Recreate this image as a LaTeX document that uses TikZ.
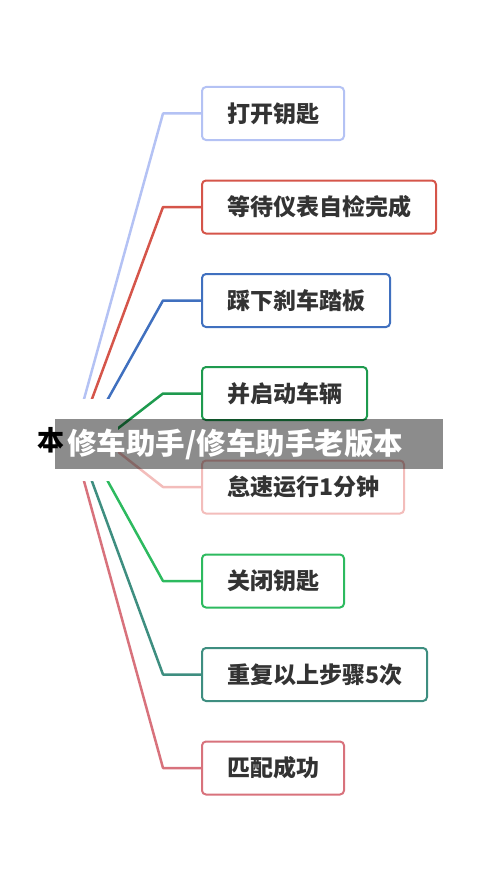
\documentclass[tikz,border=0pt]{standalone}
\usepackage{fontspec}
\newfontfamily\cjk{Noto Sans CJK SC}
\definecolor{txt}{HTML}{333333}
\definecolor{c1}{HTML}{B4C2F4}
\definecolor{c2}{HTML}{D5554A}
\definecolor{c3}{HTML}{4070BF}
\definecolor{c4}{HTML}{1E9A4E}
\definecolor{c5}{HTML}{F3BDBB}
\definecolor{c6}{HTML}{2DBA5F}
\definecolor{c7}{HTML}{3E8E80}
\definecolor{c8}{HTML}{D8727C}
\begin{document}
\begin{tikzpicture}[x=1pt,y=-1pt,
  stepbox/.style={draw=#1, rounded corners=4pt, line width=2pt, fill=white,
    minimum height=53pt, inner xsep=25pt, inner ysep=0pt, anchor=west,
    font=\cjk\bfseries\fontsize{23}{23}\selectfont, text=txt},
  link/.style={draw=#1, line width=2.5pt, line join=round}]
\useasboundingbox (0,0) rectangle (500,888);
% branch start points (hidden below the root)
\coordinate (s1) at (72.7,440);
\coordinate (s2) at (76.8,440);
\coordinate (s3) at (85,440);
\coordinate (s4) at (103,440);
\coordinate (s5) at (103,440);
\coordinate (s6) at (85,440);
\coordinate (s7) at (76.8,440);
\coordinate (s8) at (72.7,440);
% boxes
\node[stepbox=c1] (b1) at (201,113.5) {打开钥匙};
\node[stepbox=c2] (b2) at (201,207) {等待仪表自检完成};
\node[stepbox=c3] (b3) at (201,300.5) {踩下刹车踏板};
\node[stepbox=c4] (b4) at (201,393.5) {并启动车辆};
\node[stepbox=c5] (b5) at (201,487) {怠速运行1分钟};
\node[stepbox=c6] (b6) at (201,581) {关闭钥匙};
\node[stepbox=c7] (b7) at (201,674.5) {重复以上步骤5次};
\node[stepbox=c8] (b8) at (201,768) {匹配成功};
% connectors
\draw[link=c1] (s1) -- ([xshift=-38pt]b1.west) -- (b1.west);
\draw[link=c2] (s2) -- ([xshift=-38pt]b2.west) -- (b2.west);
\draw[link=c3] (s3) -- ([xshift=-38pt]b3.west) -- (b3.west);
\draw[link=c4] (s4) -- ([xshift=-38pt]b4.west) -- (b4.west);
\draw[link=c5] (s5) -- ([xshift=-38pt]b5.west) -- (b5.west);
\draw[link=c6] (s6) -- ([xshift=-38pt]b6.west) -- (b6.west);
\draw[link=c7] (s7) -- ([xshift=-38pt]b7.west) -- (b7.west);
\draw[link=c8] (s8) -- ([xshift=-38pt]b8.west) -- (b8.west);
% root
\node[anchor=west, fill=white, minimum height=82pt, inner xsep=9pt, inner ysep=0pt,
  text width=72pt, font=\cjk\bfseries\fontsize{27}{27}\selectfont, text=black]
  (root) at (28,440) {本};
% banner
\node[anchor=west, fill=black, fill opacity=0.45, text opacity=1, text=white,
  minimum height=50pt, inner xsep=12pt, inner ysep=0pt, text width=364pt,
  font=\cjk\bfseries\fontsize{29.5}{29.5}\selectfont]
  (banner) at (55,444) {修车助手/修车助手老版本};
\end{tikzpicture}
\end{document}
